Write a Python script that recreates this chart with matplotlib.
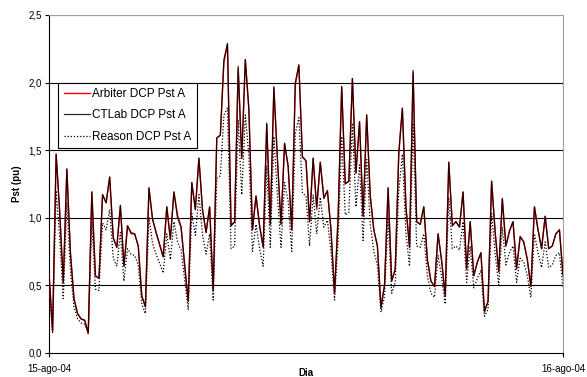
import numpy as np
import matplotlib
matplotlib.use("Agg")
import matplotlib.pyplot as plt

plt.rcParams['font.family'] = ['Liberation Sans', 'DejaVu Sans']

# 10-minute Pst values over one day (145 samples)
ctlab = [0.60, 0.16, 1.47, 1.04, 0.52, 1.36, 0.74, 0.40, 0.29, 0.25,
         0.24, 0.15, 1.19, 0.57, 0.55, 1.17, 1.11, 1.30, 0.85, 0.78,
         1.09, 0.64, 0.94, 0.89, 0.88, 0.79, 0.42, 0.34, 1.22, 0.99,
         0.89, 0.80, 0.71, 1.08, 0.84, 1.19, 1.00, 0.93, 0.65, 0.38,
         1.26, 1.06, 1.44, 1.06, 0.89, 1.08, 0.46, 1.59, 1.61, 2.17,
         2.29, 0.94, 0.97, 2.12, 1.44, 2.17, 1.80, 0.91, 1.16, 0.94,
         0.78, 1.70, 0.95, 1.97, 1.43, 0.95, 1.55, 1.38, 0.91, 2.00,
         2.13, 1.45, 1.42, 0.97, 1.44, 1.08, 1.41, 1.14, 1.20, 0.91,
         0.44, 1.01, 1.97, 1.25, 1.27, 2.03, 1.33, 1.71, 1.01, 1.76,
         1.16, 0.91, 0.79, 0.33, 0.50, 1.22, 0.53, 0.62, 1.48, 1.81,
         1.08, 0.78, 2.09, 0.97, 0.95, 1.08, 0.69, 0.53, 0.49, 0.88,
         0.68, 0.42, 1.41, 0.94, 0.97, 0.93, 1.19, 0.62, 0.97, 0.57,
         0.67, 0.74, 0.30, 0.38, 1.27, 0.89, 0.60, 1.14, 0.79, 0.90,
         0.97, 0.62, 0.86, 0.82, 0.69, 0.49, 1.08, 0.91, 0.77, 1.01,
         0.77, 0.79, 0.88, 0.91, 0.57]

arbiter = [0.58, 0.16, 1.47, 1.04, 0.52, 1.36, 0.74, 0.40, 0.29, 0.25,
           0.24, 0.14, 1.19, 0.57, 0.55, 1.17, 1.11, 1.30, 0.85, 0.78,
           1.09, 0.64, 0.94, 0.88, 0.88, 0.79, 0.42, 0.34, 1.22, 0.99,
           0.89, 0.80, 0.71, 1.08, 0.84, 1.19, 1.02, 0.93, 0.65, 0.38,
           1.26, 1.06, 1.44, 1.06, 0.89, 1.08, 0.46, 1.59, 1.61, 2.15,
           2.28, 0.94, 0.97, 2.10, 1.44, 2.17, 1.80, 0.91, 1.16, 0.94,
           0.78, 1.69, 0.95, 1.96, 1.43, 0.95, 1.55, 1.38, 0.91, 1.98,
           2.13, 1.45, 1.42, 0.97, 1.44, 1.06, 1.41, 1.15, 1.20, 0.91,
           0.44, 1.01, 1.97, 1.25, 1.27, 2.03, 1.33, 1.71, 1.01, 1.76,
           1.16, 0.91, 0.79, 0.34, 0.50, 1.22, 0.53, 0.62, 1.48, 1.81,
           1.08, 0.78, 2.07, 0.97, 0.95, 1.08, 0.69, 0.53, 0.49, 0.88,
           0.68, 0.42, 1.41, 0.94, 0.97, 0.93, 1.19, 0.62, 0.97, 0.57,
           0.67, 0.74, 0.31, 0.38, 1.27, 0.89, 0.60, 1.14, 0.79, 0.90,
           0.97, 0.62, 0.86, 0.82, 0.69, 0.49, 1.08, 0.91, 0.77, 1.01,
           0.77, 0.79, 0.88, 0.91, 0.58]

reason = [0.50, 0.15, 1.20, 0.85, 0.40, 1.11, 0.61, 0.34, 0.25, 0.22,
          0.21, 0.14, 0.97, 0.47, 0.46, 0.96, 0.91, 1.06, 0.70, 0.64,
          0.89, 0.53, 0.77, 0.73, 0.72, 0.65, 0.36, 0.29, 1.00, 0.81,
          0.73, 0.66, 0.59, 0.88, 0.69, 0.97, 0.82, 0.76, 0.54, 0.32,
          1.03, 0.87, 1.17, 0.87, 0.73, 0.88, 0.39, 1.29, 1.31, 1.76,
          1.81, 0.77, 0.79, 1.72, 1.17, 1.76, 1.46, 0.75, 0.95, 0.77,
          0.64, 1.38, 0.78, 1.60, 1.16, 0.78, 1.26, 1.12, 0.75, 1.62,
          1.74, 1.18, 1.16, 0.79, 1.17, 0.88, 1.15, 0.93, 0.98, 0.75,
          0.39, 0.83, 1.60, 1.02, 1.04, 1.70, 1.08, 1.39, 0.83, 1.43,
          0.95, 0.75, 0.65, 0.30, 0.42, 1.00, 0.44, 0.52, 1.20, 1.47,
          0.88, 0.64, 1.70, 0.79, 0.78, 0.88, 0.57, 0.44, 0.41, 0.72,
          0.56, 0.36, 1.15, 0.77, 0.79, 0.76, 0.97, 0.52, 0.79, 0.48,
          0.55, 0.61, 0.27, 0.32, 1.03, 0.73, 0.50, 0.93, 0.65, 0.74,
          0.79, 0.52, 0.70, 0.67, 0.57, 0.41, 0.88, 0.74, 0.63, 0.82,
          0.63, 0.65, 0.72, 0.74, 0.48]

day_labels = ['15-ago-04', '16-ago-04']
y_ticks = [0.0, 0.5, 1.0, 1.5, 2.0, 2.5]

fig = plt.figure(figsize=(5.87, 3.77), dpi=100)
ax = fig.add_axes([49/587, 1 - 352.7/377, 514/587, 337.7/377])

x = np.arange(len(ctlab))
ax.plot(x, arbiter, color='red', lw=1.0, label='Arbiter DCP Pst A', zorder=3)
ax.plot(x, ctlab, color='black', lw=0.9, alpha=0.85, label='CTLab DCP Pst A', zorder=4)
ax.plot(x, reason, color='black', lw=0.9, ls=(0, (1, 1.5)), label='Reason DCP Pst A', zorder=2)

ax.set_xlim(0, len(ctlab) - 1)
ax.set_ylim(0, 2.5)
ax.set_yticks(y_ticks)
ax.set_yticklabels([('%.1f' % v).replace('.', ',') for v in y_ticks], fontsize=7)
ax.set_xticks([0, len(ctlab) - 1])
ax.set_xticklabels(day_labels, fontsize=7)
ax.tick_params(axis='both', length=3, width=0.8, direction='out', pad=2)
ax.tick_params(axis='x', pad=5)

for v in y_ticks[1:-1]:
    ax.axhline(v, color='black', lw=0.8, zorder=1)
ax.axhline(2.5, color='#808080', lw=0.8, zorder=1)

for s in ['top', 'right']:
    ax.spines[s].set_color('#a0a0a0')
    ax.spines[s].set_linewidth(0.8)
for s in ['left', 'bottom']:
    ax.spines[s].set_color('black')
    ax.spines[s].set_linewidth(0.8)

ax.set_xlabel('Dia', fontsize=7, fontweight='bold', labelpad=-4)
ax.set_ylabel('Pst (pu)', fontsize=7, fontweight='bold', labelpad=5)

leg = ax.legend(loc='upper left', bbox_to_anchor=(0.018, 0.80), borderaxespad=0,
                fontsize=8.5, fancybox=False, framealpha=1, edgecolor='black',
                handlelength=2.2, handletextpad=0.25, labelspacing=0.8,
                borderpad=0.45)
leg.get_frame().set_linewidth(0.8)

fig.savefig('out.png', dpi=100)
